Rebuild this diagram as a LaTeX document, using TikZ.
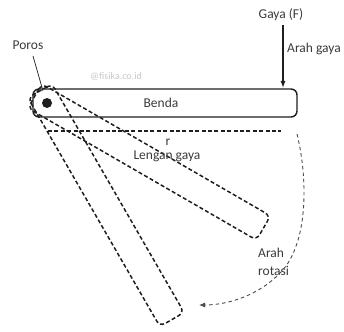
\documentclass[tikz,border=0pt]{standalone}
\usepackage{fontspec}
\setmainfont{Carlito}
\usetikzlibrary{arrows.meta}
\definecolor{txt}{HTML}{3A3A3A}
\definecolor{ink}{HTML}{1E1E1E}
\tikzset{
  lbl/.style={text=txt, font=\fontsize{13.5}{15}\selectfont, inner sep=0pt},
  solidbar/.style={draw=ink, line width=1.4pt, rounded corners=6pt},
  dashbar/.style={draw=ink, line width=1.5pt, rounded corners=6pt, dash pattern=on 4pt off 2.4pt},
  armline/.style={draw=ink, line width=1.4pt, dash pattern=on 4pt off 2.4pt},
  rotline/.style={draw=ink!80, line width=0.9pt, dash pattern=on 3.5pt off 3pt, -{Latex[length=6pt,width=5pt]}},
  forcearrow/.style={draw=ink, line width=1.3pt, -{Latex[length=7pt,width=5pt]}},
  pointer/.style={draw=ink, line width=0.7pt}
}
\begin{document}
\begin{tikzpicture}[x=1pt,y=-1pt]
\useasboundingbox (0,0) rectangle (344,331);
\coordinate (pivot) at (47,103);
% rotated dashed copies
\foreach \a in {-30,-60}{
  \draw[dashbar, rotate around={\a:(pivot)}] (33,89) rectangle (297,117);
}
% solid body
\draw[solidbar, fill=none] (33,89) rectangle (297,117);
\node[lbl] (benda) at (161,103) {Benda};
\fill[ink] (pivot) circle (5pt);
% watermark
\node[text=black!22, font=\fontsize{10}{12}\selectfont, inner sep=0pt] (wm) at (116,77) {@fisika.co.id};
% pivot label
\node[lbl] (poros) at (28,45) {Poros};
\coordinate (porosEnd) at (43,91);
\draw[pointer] (33,56) -- (porosEnd);
% lever arm
\coordinate (armA) at (48,131);
\coordinate (armB) at (281,131);
\draw[armline] (armA) -- (armB);
\node[lbl] (r) at (168,142) {r};
\node[lbl] (lengan) at (167,156) {Lengan gaya};
% force
\node[lbl] (gaya) at (281,15) {Gaya (F)};
\coordinate (fTip) at (283,88);
\draw[forcearrow] (283,25) -- (fTip);
\node[lbl, anchor=west] (arahgaya) at (287,49) {Arah gaya};
% rotation
\coordinate (rotA) at (297,134);
\coordinate (rotB) at (199,305);
\draw[rotline] (rotA) .. controls (306,170) and (310,232) .. (286,266) .. controls (266,292) and (232,305) .. (rotB);
\node[lbl, anchor=west, align=left] (arahrot) at (258,262) {Arah\\[3pt]rotasi};
\end{tikzpicture}
\end{document}
